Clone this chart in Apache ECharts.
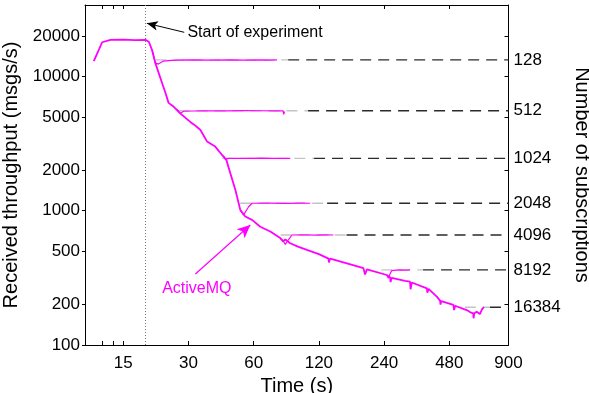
<!DOCTYPE html>
<html>
<head>
<meta charset="utf-8">
<script src="https://cdn.jsdelivr.net/npm/echarts@6/dist/echarts.min.js"></script>
<style>
  html, body { margin: 0; padding: 0; background: #fff; }
  #chart { width: 589px; height: 393px; }
</style>
</head>
<body>
<div id="chart"></div>
<script>
// Axis ticks
const timeTicks = [15, 30, 60, 120, 240, 480, 900];
const timeMinorTicks = [12, 13.5];
const rateTicks = [100, 200, 500, 1000, 2000, 5000, 10000, 20000];

// Subscription counts and the throughput each run settles at
const subscriptionLabels = ['128', '512', '1024', '2048', '4096', '8192', '16384'];
const plateauRates = [13250, 5550, 2455, 1136, 659, 362, 191];
// Reference line extents (seconds): where each guide begins and where it turns dark
const guideStart = [21.1, 27, 43, 52, 80, 233, 566];
const guideDarkFrom = [86.6, 107, 114, 131, 161, 363, 739];

// Full trace of the largest run (throughput keeps falling as subscriptions are added)
const declineTime = [10.98, 12.0, 13.1, 15, 17, 19.0, 19.7, 20.4, 21.1, 22.7, 23.6, 24.3, 25.5, 27.5,
  30.6, 32, 34.1, 36.6, 38, 39.9, 42.9, 44.9, 46.8, 49.4, 52.1, 54.9, 59.0, 64.4, 71.6, 79.6,
  82, 84, 88.5, 96, 105.7, 120, 132.9, 133.5, 135.3, 161.6, 192.7, 196, 200, 247, 256, 257,
  260, 300, 316, 318, 322, 378, 380, 385, 420, 435, 437, 440, 501, 505, 510, 577, 600, 619,
  621, 625, 642, 664, 680, 689, 693];
const declineRate = [13000, 17950, 18700, 18800, 18650, 18700, 18100, 15700, 12600, 8900, 7400, 6350, 6000, 5300,
  4580, 4350, 3990, 3270, 3150, 3000, 2600, 2390, 1910, 1430, 1010, 905, 855, 760, 700, 625,
  590, 610, 572, 540, 510, 475, 440, 412, 440, 406, 373, 335, 366, 332, 318, 294,
  316, 300, 296, 260, 292, 264, 245, 262, 229, 214, 200, 212, 199, 182, 196, 182, 175, 172,
  158, 172, 177, 170, 185, 190, 192];

// Runs that level off, [time, throughput]
const run128 = [[20.4, 15700], [21.1, 12600], [21.8, 12350], [23, 13000], [25, 13150], [30, 13250], [38, 13200],
  [46, 13280], [55, 13220], [64, 13260], [71, 13230], [76.9, 13250]];
const run512 = [[26.5, 5700], [27.5, 5300], [28.5, 5500], [35, 5550], [45, 5540], [55, 5560], [65, 5550],
  [75, 5540], [82, 5550], [82.6, 5220], [83.3, 5480]];
const run1024 = [[43.5, 2560], [44.4, 2420], [46, 2455], [55, 2450], [65, 2460], [75, 2455], [85, 2450], [88.5, 2455]];
const run2048 = [[52.1, 1010], [53.9, 930], [56.9, 1070], [59, 1136], [70, 1140], [85, 1134], [100, 1138], [109.4, 1136]];
const run4096 = [[79.6, 625], [82, 600], [84, 560], [85.5, 555], [87, 610], [90.1, 659], [100, 662], [115, 658],
  [130, 660], [140, 659]];
const run8192 = [[247, 332], [251, 314], [254, 330], [260, 358], [280, 362], [300, 361], [316, 362]];

const MAGENTA = '#ff00ff';
const FONT = '"Liberation Sans", Helvetica, Arial, sans-serif';

function pairs(xs, ys) { return xs.map((x, i) => [x, ys[i]]); }

const series = [];

// Dashed guides from each plateau to the right-hand axis
plateauRates.forEach((rate, i) => {
  series.push({
    type: 'line', silent: true, symbol: 'none', z: 1,
    data: [[guideStart[i], rate], [guideDarkFrom[i], rate]],
    lineStyle: { color: '#c4c4c4', width: 1.3, type: [11, 7] }
  });
  series.push({
    type: 'line', silent: true, symbol: 'none', z: 1,
    data: [[guideDarkFrom[i], rate], [900, rate]],
    lineStyle: { color: '#2b2b2b', width: 1.3, type: [11, 7] }
  });
});

[run128, run512, run1024, run2048, run4096, run8192].forEach(run => {
  series.push({
    type: 'line', silent: true, symbol: 'none', z: 3,
    data: run,
    lineStyle: { color: MAGENTA, width: 1.2 }
  });
});

series.push({
  type: 'line', silent: true, symbol: 'none', z: 4,
  data: pairs(declineTime, declineRate),
  lineStyle: { color: MAGENTA, width: 1.8 },
  markLine: {
    silent: true,
    symbol: 'none',
    animation: false,
    label: { show: false },
    data: [
      { xAxis: 19, lineStyle: { color: '#777', width: 1, type: [1, 2] } },
      [
        { coord: [28.7, 21290], symbol: 'none' },
        { coord: [19.3, 24850], symbol: 'arrow', symbolSize: [7, 11] }
      ],
      [
        { coord: [32.3, 338], symbol: 'none', lineStyle: { color: MAGENTA, width: 1.2, type: 'solid' } },
        { coord: [57.9, 782], symbol: 'arrow', symbolSize: [9, 13], lineStyle: { color: MAGENTA, width: 1.2, type: 'solid' } }
      ]
    ],
    lineStyle: { color: '#000', width: 1, type: 'solid' }
  },
  markPoint: {
    silent: true,
    symbol: 'circle',
    symbolSize: 0,
    animation: false,
    data: [
      { coord: [29.7, 21290], label: { show: true, position: 'right', distance: 0, formatter: 'Start of experiment',
          color: '#000', fontSize: 16, fontFamily: FONT } },
      { coord: [22.7, 264], label: { show: true, position: 'right', distance: 0, formatter: 'ActiveMQ',
          color: MAGENTA, fontSize: 16, fontFamily: FONT } }
    ]
  }
});

const axisLineStyle = { lineStyle: { color: '#000', width: 1 } };

const option = {
  animation: false,
  backgroundColor: '#fff',
  grid: { left: 85, right: 80.5, top: 5, bottom: 48, containLabel: false, outerBoundsMode: 'none' },
  xAxis: [
    {
      type: 'log', logBase: 10, min: 10, max: 900, position: 'bottom',
      name: 'Time (s)', nameLocation: 'middle', nameGap: 24,
      nameTextStyle: { fontSize: 20, fontFamily: FONT, color: '#000' },
      axisLine: axisLineStyle,
      axisTick: { inside: true, length: 4, customValues: timeMinorTicks.concat(timeTicks), lineStyle: { color: '#000' } },
      axisLabel: { customValues: timeTicks, margin: 10, fontSize: 17, fontFamily: FONT, color: '#000',
        formatter: v => String(Math.round(v)) },
      splitLine: { show: false }, minorSplitLine: { show: false }
    },
    {
      type: 'log', logBase: 10, min: 10, max: 900, position: 'top',
      axisLine: axisLineStyle,
      axisTick: { inside: true, length: 4, customValues: timeMinorTicks.concat(timeTicks), lineStyle: { color: '#000' } },
      axisLabel: { show: false },
      splitLine: { show: false }
    }
  ],
  yAxis: [
    {
      type: 'log', logBase: 10, min: 100, max: 34000, position: 'left',
      name: 'Received throughput (msgs/s)', nameLocation: 'middle', nameGap: 59,
      nameTextStyle: { fontSize: 20, fontFamily: FONT, color: '#000' },
      axisLine: axisLineStyle,
      axisTick: { inside: false, length: 3, customValues: rateTicks, lineStyle: { color: '#000' } },
      axisLabel: { customValues: rateTicks, margin: 5, fontSize: 17, fontFamily: FONT, color: '#000',
        formatter: v => String(Math.round(v)) },
      splitLine: { show: false }
    },
    {
      type: 'log', logBase: 10, min: 100, max: 34000, position: 'right',
      name: 'Number of subscriptions', nameLocation: 'middle', nameGap: 61, nameRotate: -90,
      nameTextStyle: { fontSize: 20, fontFamily: FONT, color: '#000' },
      axisLine: axisLineStyle,
      axisTick: { inside: true, length: 4, customValues: rateTicks.slice(1), lineStyle: { color: '#000' } },
      axisLabel: {
        customValues: plateauRates, margin: 5, fontSize: 17, fontFamily: FONT, color: '#000',
        formatter: v => {
          const i = plateauRates.findIndex(r => Math.abs(Math.log(v / r)) < 0.01);
          return i >= 0 ? subscriptionLabels[i] : '';
        }
      },
      splitLine: { show: false }
    }
  ],
  series: series
};

const chart = echarts.init(document.getElementById('chart'), null, { renderer: 'canvas' });
chart.setOption(option);
</script>
</body>
</html>
